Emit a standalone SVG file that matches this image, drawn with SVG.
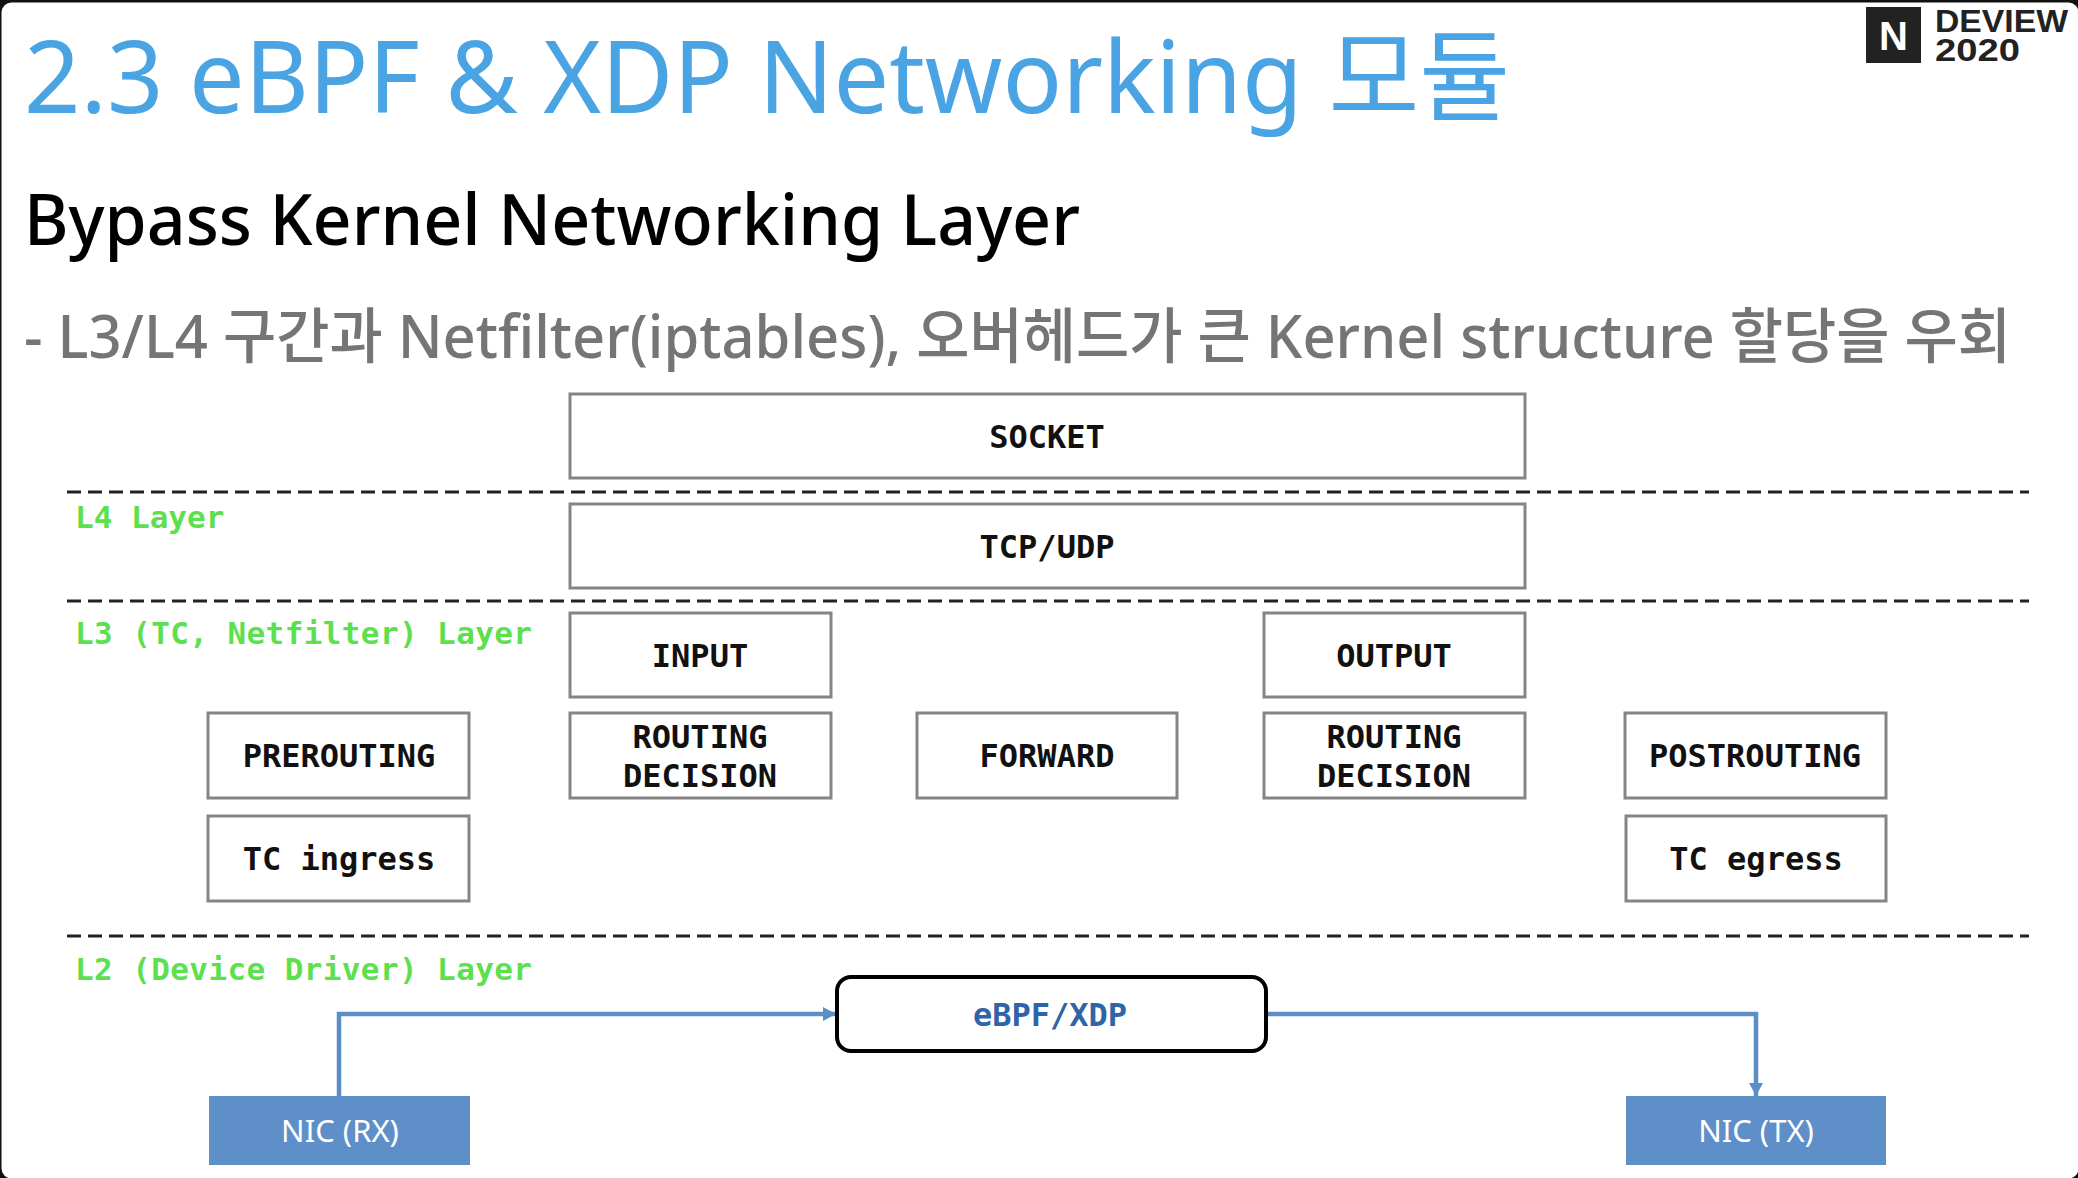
<svg xmlns="http://www.w3.org/2000/svg" width="2078" height="1178" viewBox="0 0 2078 1178">
<style>
.box{fill:#fff;stroke:#858585;stroke-width:3}
.t{font-family:"DejaVu Sans Mono","Liberation Mono",monospace;font-weight:700;font-size:32px;fill:#111;text-anchor:middle}
.g{font-family:"DejaVu Sans Mono","Liberation Mono",monospace;font-weight:700;font-size:31px;fill:#5ee04e}
.d{stroke:#222;stroke-width:3;stroke-dasharray:14 7;fill:none}
.c{stroke:#5b8ec7;stroke-width:4.5;fill:none}
.n{fill:#5e8fc8}
.nt{font-family:"Noto Sans",sans-serif;font-size:31px;fill:#fff;text-anchor:middle}
.s{font-family:"Noto Sans","Noto Sans CJK KR",sans-serif}
</style>
<defs><marker id="a" markerUnits="userSpaceOnUse" markerWidth="14" markerHeight="14" refX="13" refY="7" orient="auto"><path d="M0 0L13 7L0 14Z" fill="#5b8ec7"/></marker></defs>
<rect width="2078" height="1178" fill="#111"/>
<rect x="1.5" y="2.5" width="2077" height="1176" rx="10" fill="#fff"/>
<g id="title"><text class="s" x="24" y="113" font-size="100" fill="#4aa3e2" textLength="1486" lengthAdjust="spacingAndGlyphs">2.3 eBPF &amp; XDP Networking 모듈</text></g>
<g id="heading"><text class="s" x="24" y="245" font-size="70" font-weight="500" fill="#000" textLength="1056" lengthAdjust="spacingAndGlyphs">Bypass Kernel Networking Layer</text></g>
<g id="subtitle"><text class="s" x="24" y="358" font-size="60" font-weight="500" fill="#757575" textLength="1987" lengthAdjust="spacingAndGlyphs">- L3/L4 구간과 Netfilter(iptables), 오버헤드가 큰 Kernel structure 할당을 우회</text></g>
<g id="logo"><rect x="1866" y="7" width="55" height="56" fill="#222"/><text x="1893.5" y="50" font-family="Liberation Sans,sans-serif" font-weight="700" font-size="40" fill="#fff" text-anchor="middle">N</text>
<text x="1935" y="32" font-family="Liberation Sans,sans-serif" font-weight="700" font-size="31" fill="#222" textLength="133" lengthAdjust="spacingAndGlyphs">DEVIEW</text>
<text x="1935" y="61" font-family="Liberation Sans,sans-serif" font-weight="700" font-size="31" fill="#222" textLength="85" lengthAdjust="spacingAndGlyphs">2020</text></g>
<g id="dividers"><path class="d" d="M67 492H2029M67 601H2029M67 936H2029"/></g>
<g id="layer-labels"><text class="g" x="75" y="528">L4 Layer</text><text class="g" x="75" y="644" textLength="457">L3 (TC, Netfilter) Layer</text><text class="g" x="75" y="980" textLength="457">L2 (Device Driver) Layer</text></g>
<g id="connectors"><path class="c" d="M339 1096V1014H836" marker-end="url(#a)"/><path class="c" d="M1266 1014H1756V1096" marker-end="url(#a)"/></g>
<g id="socket"><rect class="box" x="570" y="394" width="955" height="84"/><text class="t" x="1047" y="448">SOCKET</text></g>
<g id="tcpudp"><rect class="box" x="570" y="504" width="955" height="84"/><text class="t" x="1047" y="558">TCP/UDP</text></g>
<g id="input"><rect class="box" x="570" y="613" width="261" height="84"/><text class="t" x="700" y="667">INPUT</text></g>
<g id="output"><rect class="box" x="1264" y="613" width="261" height="84"/><text class="t" x="1394" y="667">OUTPUT</text></g>
<g id="prerouting"><rect class="box" x="208" y="713" width="261" height="85"/><text class="t" x="339" y="767">PREROUTING</text></g>
<g id="routing1"><rect class="box" x="570" y="713" width="261" height="85"/><text class="t" x="700" y="748">ROUTING</text><text class="t" x="700" y="787">DECISION</text></g>
<g id="forward"><rect class="box" x="917" y="713" width="260" height="85"/><text class="t" x="1047" y="767">FORWARD</text></g>
<g id="routing2"><rect class="box" x="1264" y="713" width="261" height="85"/><text class="t" x="1394" y="748">ROUTING</text><text class="t" x="1394" y="787">DECISION</text></g>
<g id="postrouting"><rect class="box" x="1625" y="713" width="261" height="85"/><text class="t" x="1755" y="767">POSTROUTING</text></g>
<g id="tcingress"><rect class="box" x="208" y="816" width="261" height="85"/><text class="t" x="339" y="870">TC ingress</text></g>
<g id="tcegress"><rect class="box" x="1626" y="816" width="260" height="85"/><text class="t" x="1756" y="870">TC egress</text></g>
<g id="ebpf"><rect x="837" y="977" width="429" height="74" rx="14" fill="#fff" stroke="#000" stroke-width="4"/><text class="t" x="1050" y="1026" style="fill:#2f64a8">eBPF/XDP</text></g>
<g id="nicrx"><rect class="n" x="209" y="1096" width="261" height="69"/><text class="nt" x="340" y="1142">NIC (RX)</text></g>
<g id="nictx"><rect class="n" x="1626" y="1096" width="260" height="69"/><text class="nt" x="1756" y="1142">NIC (TX)</text></g>
</svg>
